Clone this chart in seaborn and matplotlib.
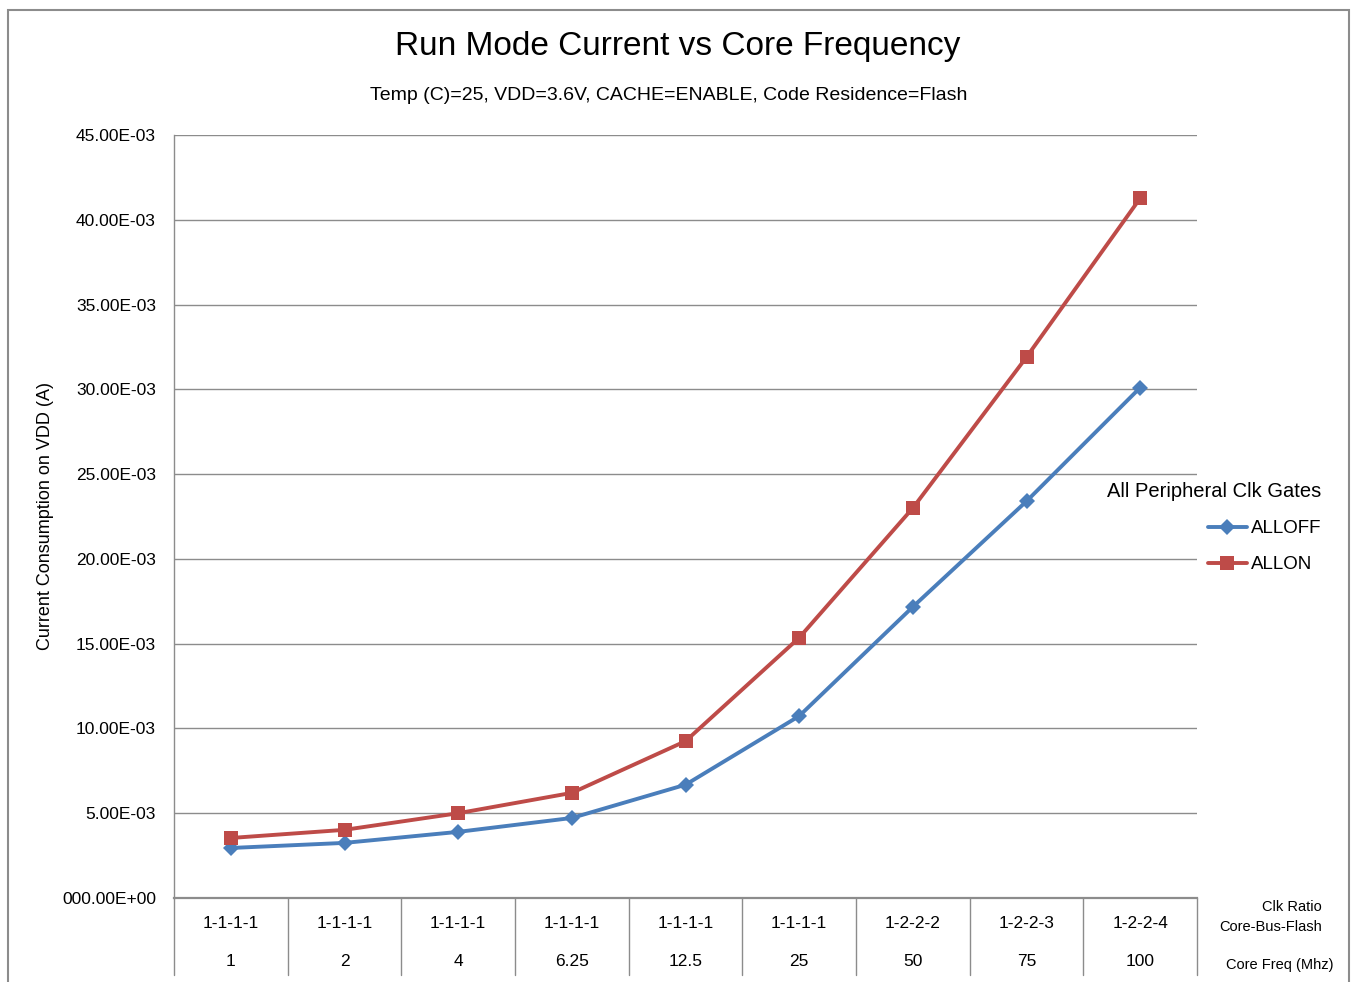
import matplotlib
matplotlib.use("Agg")
import matplotlib.pyplot as plt
import matplotlib.transforms as mtransforms
from matplotlib.patches import Rectangle
import seaborn as sns
import pandas as pd

# ---- data ----
clk_ratio = ["1-1-1-1", "1-1-1-1", "1-1-1-1", "1-1-1-1", "1-1-1-1", "1-1-1-1", "1-2-2-2", "1-2-2-3", "1-2-2-4"]
core_freq = ["1", "2", "4", "6.25", "12.5", "25", "50", "75", "100"]
all_off = [2.95e-3, 3.25e-3, 3.9e-3, 4.72e-3, 6.68e-3, 10.73e-3, 17.17e-3, 23.4e-3, 30.1e-3]
all_on = [3.54e-3, 4.02e-3, 5.0e-3, 6.2e-3, 9.25e-3, 15.35e-3, 23.0e-3, 31.9e-3, 41.27e-3]
series_names = ["ALLOFF", "ALLON"]
y_ticks = [0, 5e-3, 10e-3, 15e-3, 20e-3, 25e-3, 30e-3, 35e-3, 40e-3, 45e-3]
y_tick_labels = ["000.00E+00", "5.00E-03", "10.00E-03", "15.00E-03", "20.00E-03",
                 "25.00E-03", "30.00E-03", "35.00E-03", "40.00E-03", "45.00E-03"]

df = pd.DataFrame({
    "freq": core_freq * 2,
    "current": all_off + all_on,
    "series": [series_names[0]] * len(all_off) + [series_names[1]] * len(all_on),
})

sns.set_style("white")
plt.rcParams["font.family"] = ["Liberation Sans", "DejaVu Sans"]
plt.rcParams["text.color"] = "black"
plt.rcParams["axes.labelcolor"] = "black"
plt.rcParams["ytick.color"] = "black"
plt.rcParams["xtick.color"] = "black"

fig = plt.figure(figsize=(13.51, 9.82), dpi=100)
ax = fig.add_axes([174 / 1351, 84 / 982, (1197 - 174) / 1351, (898 - 135) / 982])

palette = {"ALLOFF": "#4A7EBB", "ALLON": "#BE4B48"}
markers = {"ALLOFF": "D", "ALLON": "s"}
sns.lineplot(data=df, x="freq", y="current", hue="series", style="series",
             markers=markers, dashes=False, palette=palette, sort=False,
             linewidth=2.8, markersize=9, markeredgewidth=0, ax=ax, legend=False)

for line in ax.get_lines():
    if line.get_marker() == "s":
        line.set_markersize(10)
    elif line.get_marker() == "D":
        line.set_markersize(8)

ax.set_xlim(-0.5, len(core_freq) - 0.5)
ax.set_ylim(0, 45e-3)
ax.set_yticks(y_ticks)
ax.set_yticklabels(y_tick_labels, fontsize=12.5)
ax.tick_params(axis="y", length=0, pad=13)
ax.set_xticks([])
ax.set_xlabel("")
ax.set_ylabel("Current Consumption on VDD (A)", fontsize=13, labelpad=6)
ax.yaxis.grid(True, color="#8c8c8c", linewidth=1.0)
ax.set_axisbelow(True)
for s in ["top", "right"]:
    ax.spines[s].set_visible(False)
ax.spines["left"].set_color("#8c8c8c")
ax.spines["left"].set_linewidth(1.0)
ax.spines["bottom"].set_color("#8c8c8c")
ax.spines["bottom"].set_linewidth(1.6)

# two-level category labels with separators
trans = mtransforms.blended_transform_factory(ax.transData, ax.transAxes)
sep_depth = 77 / 763
for i in range(len(core_freq) + 1):
    ax.plot([i - 0.5, i - 0.5], [0, -sep_depth], transform=trans, color="#8c8c8c",
            linewidth=1.0, clip_on=False)
for i, (r, f) in enumerate(zip(clk_ratio, core_freq)):
    ax.text(i, -25 / 763, r, transform=trans, ha="center", va="center", fontsize=12.5)
    ax.text(i, -63 / 763, f, transform=trans, ha="center", va="center", fontsize=12.5)

fig.text(1322 / 1351, 1 - 907 / 982, "Clk Ratio", ha="right", va="center", fontsize=10.5)
fig.text(1322 / 1351, 1 - 927 / 982, "Core-Bus-Flash", ha="right", va="center", fontsize=10.5)
fig.text(1334 / 1351, 1 - 965 / 982, "Core Freq (Mhz)", ha="right", va="center", fontsize=10.5)

# titles
fig.text(678 / 1351, 1 - 46 / 982, "Run Mode Current vs Core Frequency", ha="center", va="center", fontsize=24)
fig.text(669 / 1351, 1 - 96 / 982, "Temp (C)=25, VDD=3.6V, CACHE=ENABLE, Code Residence=Flash",
         ha="center", va="center", fontsize=14)

# legend
handles = [plt.Line2D([], [], color=palette[n], marker=markers[n], linewidth=2.8,
                      markersize=(8 if n == "ALLOFF" else 10), markeredgewidth=0) for n in series_names]
leg = fig.legend(handles, series_names, title="All Peripheral Clk Gates", loc="upper left",
                 bbox_to_anchor=(1090 / 1351, 1 - 465 / 982), frameon=False, fontsize=13.5,
                 title_fontsize=14.5, handlelength=2.1, handletextpad=0.2, labelspacing=1.0,
                 numpoints=1, alignment="right")
leg._legend_box.sep = 14

# outer frame
fig.patches.append(Rectangle((8 / 1351, -0.01), 1341 / 1351, 1 - 10 / 982 + 0.01,
                             transform=fig.transFigure, fill=False, edgecolor="#8c8c8c",
                             linewidth=1.5))

fig.savefig("out.png", dpi=100)
